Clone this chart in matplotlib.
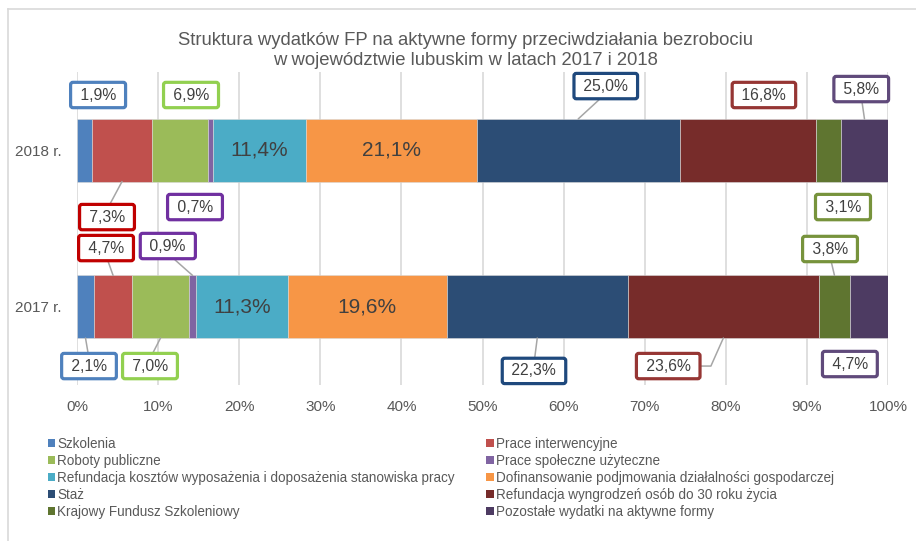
import matplotlib
matplotlib.use("Agg")
import matplotlib.pyplot as plt
import numpy as np
from matplotlib.patches import Patch
from matplotlib.lines import Line2D

# data (percent shares)
years = ["2017 r.", "2018 r."]
categories = [
    "Szkolenia",
    "Prace interwencyjne",
    "Roboty publiczne",
    "Prace społeczne użyteczne",
    "Refundacja kosztów wyposażenia i doposażenia stanowiska pracy",
    "Dofinansowanie podjmowania działalności gospodarczej",
    "Staż",
    "Refundacja wyngrodzeń osób do 30 roku życia",
    "Krajowy Fundusz Szkoleniowy",
    "Pozostałe wydatki na aktywne formy",
]
share_2017 = [2.1, 4.7, 7.0, 0.9, 11.3, 19.6, 22.3, 23.6, 3.8, 4.7]
share_2018 = [1.9, 7.3, 6.9, 0.7, 11.4, 21.1, 25.0, 16.8, 3.1, 5.8]
x_ticks = [0, 10, 20, 30, 40, 50, 60, 70, 80, 90, 100]

title = ("Struktura wydatków FP na aktywne formy przeciwdziałania bezrobociu\n"
         "w województwie lubuskim w latach 2017 i 2018")

# styling
bar_colors = ["#4F81BD", "#C0504D", "#9BBB59", "#8064A2", "#4BACC6",
              "#F79646", "#2C4D75", "#772C2A", "#5F7530", "#4D3B62"]
box_colors = ["#4F81BD", "#C00000", "#92D050", "#7030A0", None,
              None, "#1F497D", "#963634", "#77933C", "#604A7B"]
inside = {4, 5}

# label box centres (x in %, y in category units) and leader style
label_layout = {
    (1, 0): (2.6, 1.353, None),
    (1, 1): (3.7, 0.573, "down"),
    (1, 2): (14.06, 1.353, None),
    (1, 3): (14.55, 0.637, None),
    (1, 6): (65.2, 1.41, "up"),
    (1, 7): (84.7, 1.353, None),
    (1, 8): (94.45, 0.637, None),
    (1, 9): (96.7, 1.391, "up"),
    (0, 0): (1.48, -0.379, "down"),
    (0, 1): (3.58, 0.375, "up"),
    (0, 2): (9.0, -0.379, "down"),
    (0, 3): (11.2, 0.388, "up"),
    (0, 6): (56.35, -0.41, "down"),
    (0, 7): (72.9, -0.379, "side"),
    (0, 8): (92.85, 0.369, "up"),
    (0, 9): (95.3, -0.366, None),
}

W, H = 916, 541
plt.rcParams["font.family"] = ["Liberation Sans", "DejaVu Sans"]
fig = plt.figure(figsize=(W / 100, H / 100), dpi=100)
ax = fig.add_axes([77 / W, 1 - 385 / H, (888 - 77) / W, (385 - 72) / H])

bar_h = 0.4
series = [share_2017, share_2018]
for yi, vals in enumerate(series):
    left = 0.0
    for ci, v in enumerate(vals):
        ax.barh(yi, v, left=left, height=bar_h, color=bar_colors[ci],
                edgecolor="#D9D9D9", linewidth=0.4, zorder=2)
        mid = left + v / 2
        txt = f"{v:.1f}".replace(".", ",") + "%"
        if ci in inside:
            ax.text(mid, yi, txt, ha="center", va="center", fontsize=15,
                    color="#404040", zorder=4)
        else:
            lx, ly, leader = label_layout[(yi, ci)]
            bbox = dict(boxstyle="round,pad=0.33,rounding_size=0.15", fc="white",
                        ec=box_colors[ci], lw=2.3)
            if leader is None:
                ax.text(lx, ly, " " + txt + " ", ha="center", va="center",
                        fontsize=11.3, color="#404040", bbox=bbox, zorder=5)
            else:
                if leader == "up":
                    end_y, rel, conn = yi + bar_h / 2, (0.5, 0), "arc3"
                elif leader == "down":
                    end_y, rel, conn = yi - bar_h / 2, (0.5, 1), "arc3"
                else:
                    end_y, rel, conn = yi - bar_h / 2, (1, 0.5), "angle,angleA=0,angleB=66,rad=0"
                ax.annotate(" " + txt + " ", xy=(mid, end_y), xytext=(lx, ly),
                            ha="center", va="center", fontsize=11.3, color="#404040",
                            bbox=bbox, zorder=5,
                            arrowprops=dict(arrowstyle="-", color="#A6A6A6", lw=1.1,
                                            relpos=rel, shrinkA=0, shrinkB=0,
                                            connectionstyle=conn))
        left += v

ax.set_xlim(0, 100)
ax.set_ylim(-0.5, 1.5)
ax.set_xticks(x_ticks)
ax.set_xticklabels([f"{t}%" for t in x_ticks])
ax.set_yticks([0, 1])
ax.set_yticklabels(years)
ax.tick_params(axis="x", length=0, pad=11, labelsize=11, labelcolor="#595959")
ax.tick_params(axis="y", length=0, pad=11, labelsize=11, labelcolor="#595959")
ax.xaxis.grid(True, color="#D9D9D9", linewidth=1.2)
ax.set_axisbelow(True)
for s in ax.spines.values():
    s.set_visible(False)

fig.text(465 / W, 1 - 50.5 / H, title, ha="center", va="center", fontsize=13.3,
         color="#595959", linespacing=1.3)

# chart frame (only top and left edges visible in the crop)
fig.add_artist(Line2D([8 / W, 8 / W], [0, 1 - 9 / H], color="#D9D9D9", lw=1.2))
fig.add_artist(Line2D([8 / W, 1], [1 - 9 / H, 1 - 9 / H], color="#D9D9D9", lw=1.2))

handles = [Patch(facecolor=c, edgecolor="none") for c in bar_colors]
order = list(range(0, 10, 2)) + list(range(1, 10, 2))
fig.legend([handles[i] for i in order], [categories[i] for i in order],
           loc="upper left", bbox_to_anchor=(48 / W, 1 - 437 / H), ncol=2,
           frameon=False, fontsize=9.75, labelcolor="#595959", borderpad=0,
           borderaxespad=0, handlelength=0.55, handleheight=0.55,
           handletextpad=0.15, labelspacing=0.22, columnspacing=2.3)

fig.savefig("out.png", dpi=100)
